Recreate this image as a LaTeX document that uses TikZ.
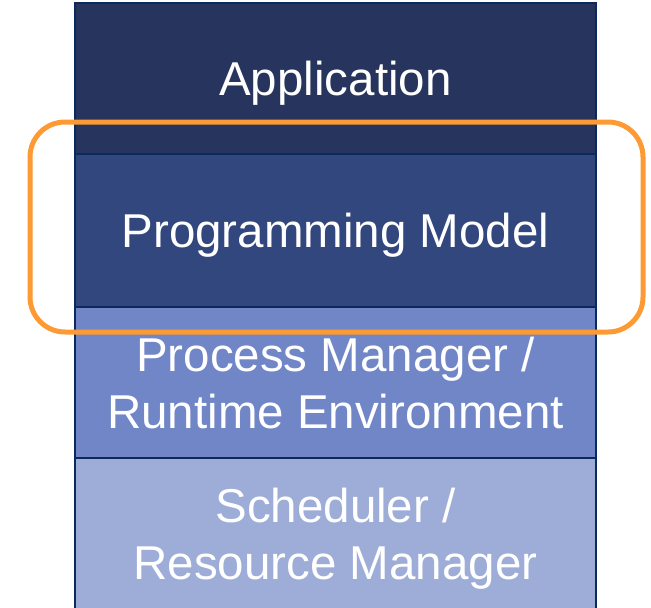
\documentclass[tikz,border=0pt]{standalone}
\usepackage{fontspec}
\setmainfont{Liberation Sans}
\usetikzlibrary{calc}
\usetikzlibrary{positioning}
\definecolor{appblue}{HTML}{27355E}
\definecolor{progblue}{HTML}{33477F}
\definecolor{procblue}{HTML}{7086C6}
\definecolor{schedblue}{HTML}{9EADD8}
\definecolor{edgeblue}{HTML}{0B2A5B}
\definecolor{frameorange}{HTML}{FD9A34}

\begin{document}
\begin{tikzpicture}[x=1pt, y=-1pt,
  layer/.style={draw=edgeblue, line width=1.5pt, minimum width=521pt, minimum height=152pt,
    inner sep=0pt, outer sep=0pt, text=white, align=center, text depth=0pt,
    font=\fontsize{47.5}{57}\selectfont}]
\useasboundingbox (0,0) rectangle (651,608);
\begin{scope}
\clip (0,0) rectangle (651,608);
\node[layer, fill=appblue, minimum height=151pt] (app) at (335.5,78.5) {Application};
\node[layer, fill=progblue, minimum height=153pt, below=0pt of app] (prog) {Programming Model};
\node[layer, fill=procblue, minimum height=151pt, below=0pt of prog] (proc) {Process Manager /\\Runtime Environment};
\node[layer, fill=schedblue, below=0pt of proc] (sched) {Scheduler /\\Resource Manager};
\end{scope}
% highlight round the programming model
\draw[frameorange, line width=5pt, rounded corners=35pt]
  ($(prog.north west)+(-45,-32)$) rectangle ($(prog.south east)+(47,25)$);
\end{tikzpicture}
\end{document}
